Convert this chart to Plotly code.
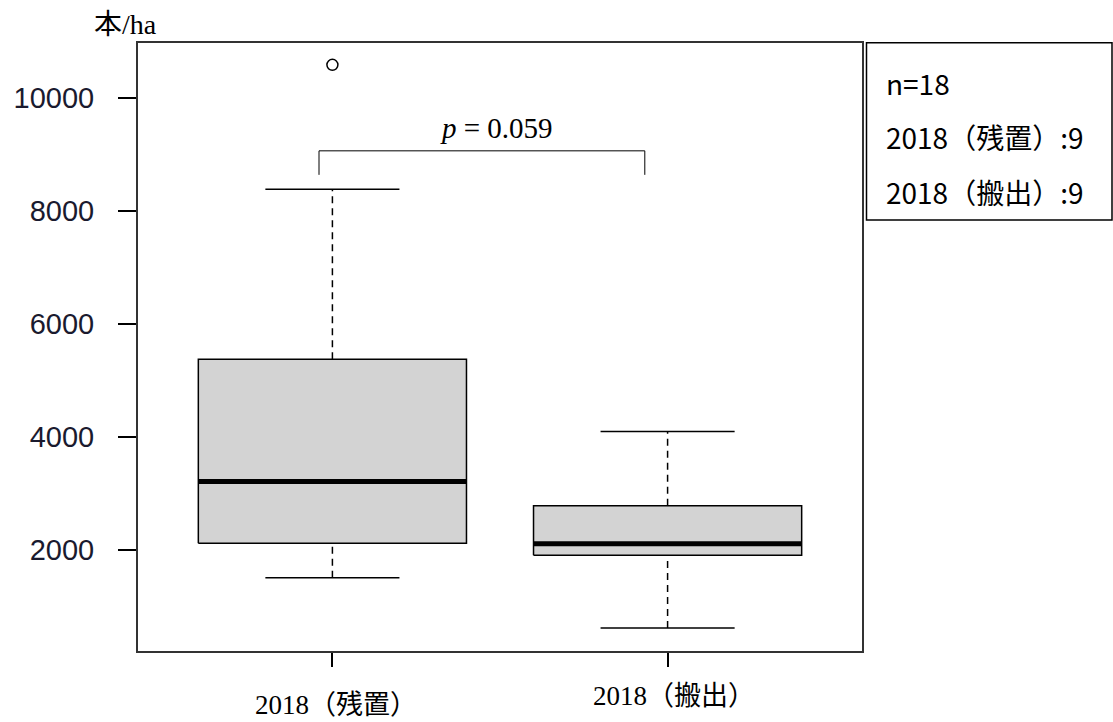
import plotly.graph_objects as go

# ---- data ----
categories = ["2018（残置）", "2018（搬出）"]
positions = [1, 2]
q1_vals = [2110, 1900]
median_vals = [3205, 2100]
q3_vals = [5370, 2775]
lower_whisker = [1500, 610]
upper_whisker = [8380, 4090]
outlier_x = [1]
outlier_y = [10580]
p_text = "<i>p</i> = 0.059"
legend_lines = ["n=18", "2018（残置）:9", "2018（搬出）:9"]
y_ticks = [2000, 4000, 6000, 8000, 10000]

# ---- style / layout constants ----
box_w = 0.8
cap_w = 0.4
W, H = 1113, 722
ML, MR, MT, MB = 138, 251, 43, 71
serif = "Liberation Serif, Noto Sans CJK JP, serif"
sans_cjk = "Noto Sans CJK JP, Noto Sans, sans-serif"

fig = go.Figure()

for i, c in enumerate(positions):
    # whiskers (dashed)
    fig.add_trace(go.Scatter(x=[c, c], y=[q3_vals[i], upper_whisker[i]], mode="lines",
                             line=dict(color="black", width=1.5, dash="7px,5px"),
                             showlegend=False, hoverinfo="skip"))
    fig.add_trace(go.Scatter(x=[c, c], y=[lower_whisker[i], q1_vals[i]], mode="lines",
                             line=dict(color="black", width=1.5, dash="7px,5px"),
                             showlegend=False, hoverinfo="skip"))
    # caps
    for v in (upper_whisker[i], lower_whisker[i]):
        fig.add_trace(go.Scatter(x=[c - cap_w / 2, c + cap_w / 2], y=[v, v], mode="lines",
                                 line=dict(color="black", width=1.5),
                                 showlegend=False, hoverinfo="skip"))
    # box
    fig.add_trace(go.Scatter(
        x=[c - box_w / 2, c + box_w / 2, c + box_w / 2, c - box_w / 2, c - box_w / 2],
        y=[q1_vals[i], q1_vals[i], q3_vals[i], q3_vals[i], q1_vals[i]],
        mode="lines", fill="toself", fillcolor="#d3d3d3",
        line=dict(color="black", width=1.5), showlegend=False, hoverinfo="skip"))
    # median
    fig.add_trace(go.Scatter(x=[c - box_w / 2, c + box_w / 2], y=[median_vals[i]] * 2,
                             mode="lines", line=dict(color="black", width=5),
                             showlegend=False, hoverinfo="skip"))

# outliers
fig.add_trace(go.Scatter(x=outlier_x, y=outlier_y, mode="markers",
                         marker=dict(symbol="circle-open", size=11, color="black",
                                     line=dict(width=1.5)),
                         showlegend=False, hoverinfo="skip"))

# significance bracket
br_x0, br_x1 = 0.96, 1.932
br_top, br_bot = 9058, 8633
fig.add_trace(go.Scatter(x=[br_x0, br_x0, br_x1, br_x1], y=[br_bot, br_top, br_top, br_bot],
                         mode="lines", line=dict(color="black", width=1),
                         showlegend=False, hoverinfo="skip"))
fig.add_annotation(x=1.49, y=9466, xref="x", yref="y", text=p_text, showarrow=False,
                   font=dict(family=serif, size=29, color="black"),
                   xanchor="center", yanchor="middle")

# x category labels (placed as in reference, at slightly different heights)
label_y = [-0.089, -0.074]
label_x = [1.01, 2.02]
for i, lab in enumerate(categories):
    fig.add_annotation(x=label_x[i], y=label_y[i], xref="x", yref="paper", text=lab,
                       showarrow=False, font=dict(family=serif, size=27, color="black"),
                       xanchor="center", yanchor="middle")

# y unit label
fig.add_annotation(x=-0.0166, y=1.031, xref="paper", yref="paper", text="本/ha",
                   showarrow=False, font=dict(family=serif, size=28, color="black"),
                   xanchor="center", yanchor="middle")

# legend box
pw = W - ML - MR
ph = H - MT - MB
def px2x(px):
    return (px - ML) / pw
def py2y(py):
    return (H - MB - py) / ph

fig.add_shape(type="rect", xref="paper", yref="paper",
              x0=px2x(866.5), x1=px2x(1112), y0=py2y(220), y1=py2y(42.7),
              line=dict(color="black", width=1.5), fillcolor="white", layer="above")
legend_py = [83, 137, 192]
for t, py in zip(legend_lines, legend_py):
    fig.add_annotation(x=px2x(884), y=py2y(py), xref="paper", yref="paper", text=t,
                       showarrow=False, font=dict(family=sans_cjk, size=28, color="black"),
                       xanchor="left", yanchor="middle")

fig.update_layout(
    width=W, height=H,
    margin=dict(l=ML, r=MR, t=MT, b=MB, pad=0),
    plot_bgcolor="white", paper_bgcolor="white",
    showlegend=False,
    xaxis=dict(range=[0.42, 2.58], tickvals=positions, ticktext=["", ""],
               ticks="outside", ticklen=14, tickwidth=1.5, tickcolor="black",
               showline=True, mirror=True, linecolor="#333", linewidth=2,
               showgrid=False, zeroline=False, fixedrange=True),
    yaxis=dict(range=[203, 10967], tickvals=y_ticks, ticktext=[str(v) for v in y_ticks],
               ticks="outside", ticklen=18, tickwidth=1.5, tickcolor="black",
               ticklabelstandoff=18,
               tickfont=dict(family="Liberation Sans, Arial, sans-serif", size=29, color="#1a1a2e"),
               showline=True, mirror=True, linecolor="#333", linewidth=2,
               showgrid=False, zeroline=False, fixedrange=True),
)

fig.write_html("out.html", config={"displayModeBar": False},
               post_script="document.body.style.margin='0px';document.body.style.padding='0px';")
